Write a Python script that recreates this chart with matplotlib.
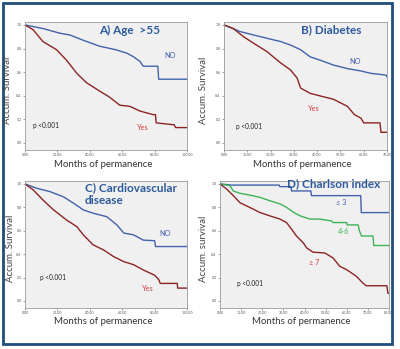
import matplotlib
matplotlib.use("Agg")
import matplotlib.pyplot as plt
from matplotlib.patches import Rectangle

plt.rcParams['font.family'] = ['Lato', 'DejaVu Sans']

# ---- data (months, cumulative survival) ----
a_no_t = [0, 11, 21.5, 27.7, 36, 46, 56, 63, 67, 71, 73, 82, 82.5, 100]
a_no_s = [1.0, 0.97, 0.93, 0.915, 0.87, 0.82, 0.79, 0.76, 0.73, 0.69, 0.65, 0.65, 0.54, 0.54]
a_yes_t = [0, 5, 11, 19.5, 25.7, 32, 38, 46, 52, 58.5, 64.7, 71, 79, 80.5, 81, 91, 92, 93, 100]
a_yes_s = [1.0, 0.96, 0.86, 0.79, 0.70, 0.59, 0.51, 0.44, 0.39, 0.32, 0.31, 0.27, 0.24, 0.24, 0.17, 0.155, 0.155,
           0.13, 0.13]

b_no_t = [0, 6.9, 12.7, 18.4, 24.2, 28.5, 32.9, 37, 41.5, 47, 53, 58.8, 63, 67.4, 69.5, 70]
b_no_s = [1.0, 0.944, 0.915, 0.887, 0.86, 0.83, 0.79, 0.73, 0.70, 0.66, 0.63, 0.61, 0.59, 0.58, 0.575, 0.56]
b_yes_t = [0, 4, 8.4, 12.7, 18.4, 24.2, 28.5, 31.4, 32.9, 37, 43, 47, 50, 53, 56, 58.8, 60, 67, 67.4, 70]
b_yes_s = [1.0, 0.97, 0.90, 0.845, 0.775, 0.68, 0.62, 0.55, 0.465, 0.42, 0.39, 0.37, 0.34, 0.31, 0.24, 0.21, 0.17,
           0.17, 0.09, 0.09]

c_no_t = [0, 7.2, 15.5, 23.7, 30, 36, 42, 50.5, 56.7, 61, 67, 73, 80, 80.6, 100]
c_no_s = [1.0, 0.963, 0.934, 0.89, 0.835, 0.778, 0.75, 0.72, 0.65, 0.58, 0.565, 0.52, 0.515, 0.465, 0.465]
c_yes_t = [0, 5, 11.3, 17.5, 25.8, 32, 36, 42, 48.5, 54.6, 61, 67, 73, 80, 82.5, 83.5, 94, 94.2, 100]
c_yes_s = [1.0, 0.95, 0.86, 0.78, 0.69, 0.635, 0.565, 0.48, 0.436, 0.38, 0.336, 0.31, 0.265, 0.22, 0.185, 0.15,
           0.15, 0.11, 0.11]

d_low_t = [0, 5.5, 28, 28.3, 33.6, 33.9, 43, 43.3, 66.6, 66.9, 80]
d_low_s = [1.0, 0.99, 0.99, 0.977, 0.977, 0.94, 0.94, 0.90, 0.90, 0.755, 0.755]
d_mid_t = [0, 4.7, 6.3, 9.4, 14, 19, 23.6, 28.3, 31.5, 35, 38, 42.5, 47, 52.8, 53.5, 60, 60.2, 65.4, 66, 67, 72.4,
           72.8, 80]
d_mid_s = [1.0, 0.985, 0.94, 0.92, 0.905, 0.885, 0.856, 0.83, 0.80, 0.755, 0.727, 0.70, 0.70, 0.684, 0.67, 0.67,
           0.65, 0.65, 0.60, 0.555, 0.555, 0.474, 0.474]
d_high_t = [0, 3.1, 6.3, 9.4, 14, 19, 23.6, 28.3, 31.5, 34, 36.2, 39.4, 41, 44, 49.6, 53.5, 56.7, 60, 64.6, 67.7,
            69.3, 79, 79.5, 80]
d_high_s = [1.0, 0.957, 0.90, 0.84, 0.80, 0.755, 0.727, 0.70, 0.67, 0.61, 0.555, 0.497, 0.454, 0.417, 0.41, 0.368,
            0.296, 0.267, 0.21, 0.152, 0.13, 0.13, 0.066, 0.066]

a_ticks = [0, 20, 40, 60, 80, 100]
b_ticks = [0, 10, 20, 30, 40, 50, 60, 70]
c_ticks = [0, 20, 40, 60, 80, 100]
d_ticks = [0, 10, 20, 30, 40, 50, 60, 70, 80]
y_ticks = [0.0, 0.2, 0.4, 0.6, 0.8, 1.0]

BLUE = "#4262ac"
RED = "#8c2424"
GREEN = "#3db45a"
TITLE = "#2d5a9c"
TXT_RED = "#d63b3b"
TFS = 8.5  # panel title size

W, H = 400, 349
fig = plt.figure(figsize=(4.0, 3.49), dpi=100)
fig.patch.set_facecolor("white")

# outer frame
fig.patches.append(Rectangle((3 / W, 1 - 344 / H), 389 / W, 341 / H, transform=fig.transFigure,
                             fill=False, edgecolor="#1f4e7a", linewidth=2.0))


def make_ax(x0, x1, ytop, ybot, xmax, ticks, ylab, ylab_x):
    ax = fig.add_axes([x0 / W, 1 - ybot / H, (x1 - x0) / W, (ybot - ytop) / H])
    ax.set_facecolor("#f0f0f0")
    ax.set_xlim(0, xmax)
    ax.set_ylim(-0.06, 1.025)
    ax.set_xticks(ticks)
    ax.set_xticklabels(["%.2f" % t for t in ticks])
    ax.set_yticks(y_ticks)
    ax.set_yticklabels(["%.1f" % t for t in y_ticks])
    ax.tick_params(labelsize=2.6, length=1.5, width=0.4, pad=1, colors="#555555")
    for s in ax.spines.values():
        s.set_color("#9a9a9a")
        s.set_linewidth(0.6)
    ax.text(0.48, -0.11, "Months of permanence", transform=ax.transAxes, ha="center", va="center",
            fontsize=6.9, color="#333333")
    fig.text(ylab_x / W, 1 - ((ytop + ybot) / 2 + 4) / H, ylab, rotation=90, ha="center", va="center",
             fontsize=6.9, color="#444444")
    return ax


# A) Age
ax = make_ax(25, 187, 22, 150, 100, a_ticks, "Accum. Survival", 8)
ax.plot(a_no_t, a_no_s, color=BLUE, lw=1.0)
ax.plot(a_yes_t, a_yes_s, color=RED, lw=1.0)
ax.text(46, 0.955, "A) Age  >55", color=TITLE, fontsize=TFS, fontweight="bold", va="center")
ax.text(86, 0.74, "NO", color=BLUE, fontsize=5.3, va="center")
ax.text(69, 0.13, "Yes", color=TXT_RED, fontsize=5.3, va="center")
ax.text(5, 0.15, "p <0.001", color="#222222", fontsize=4.7, va="center")

# B) Diabetes
ax = make_ax(224, 387, 22, 150, 70, b_ticks, "Accum. Survival", 204)
ax.plot(b_no_t, b_no_s, color=BLUE, lw=1.0)
ax.plot(b_yes_t, b_yes_s, color=RED, lw=1.0)
ax.text(33, 0.96, "B) Diabetes", color=TITLE, fontsize=TFS, fontweight="bold", va="center")
ax.text(54, 0.69, "NO", color=BLUE, fontsize=5.3, va="center")
ax.text(36, 0.29, "Yes", color=TXT_RED, fontsize=5.3, va="center")
ax.text(5, 0.14, "p <0.001", color="#222222", fontsize=4.7, va="center")

# C) Cardiovascular disease
ax = make_ax(25, 187, 181, 308, 100, c_ticks, "Accum. Survival", 11)
ax.plot(c_no_t, c_no_s, color=BLUE, lw=1.0)
ax.plot(c_yes_t, c_yes_s, color=RED, lw=1.0)
ax.text(37, 0.97, "C) Cardiovascular", color=TITLE, fontsize=TFS, fontweight="bold", va="center")
ax.text(37, 0.86, "disease", color=TITLE, fontsize=TFS, fontweight="bold", va="center")
ax.text(83, 0.58, "NO", color=BLUE, fontsize=5.3, va="center")
ax.text(72, 0.105, "Yes", color=TXT_RED, fontsize=5.3, va="center")
ax.text(9, 0.2, "p <0.001", color="#222222", fontsize=4.7, va="center")

# D) Charlson index
ax = make_ax(220, 389, 181, 308, 80, d_ticks, "Accum. survival", 204)
ax.plot(d_low_t, d_low_s, color=BLUE, lw=1.0)
ax.plot(d_mid_t, d_mid_s, color=GREEN, lw=1.0)
ax.plot(d_high_t, d_high_s, color=RED, lw=1.0)
ax.text(31.5, 1.0, "D) Charlson index", color=TITLE, fontsize=TFS, fontweight="bold", va="center",
        clip_on=False)
ax.text(55, 0.84, "\u2264 3", color=BLUE, fontsize=5.3, va="center")
ax.text(56, 0.595, "4-6", color=GREEN, fontsize=5.3, va="center")
ax.text(42, 0.325, "\u2265 7", color=TXT_RED, fontsize=5.3, va="center")
ax.text(8, 0.15, "p <0.001", color="#222222", fontsize=4.7, va="center")

fig.savefig("out.png", dpi=100)
